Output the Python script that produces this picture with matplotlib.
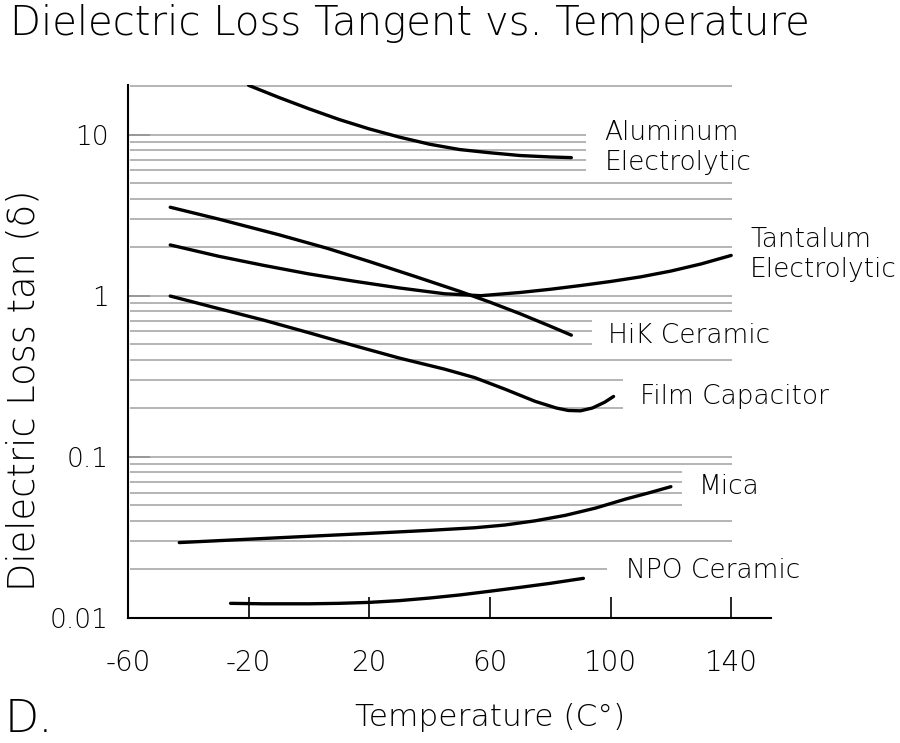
import matplotlib
matplotlib.use('Agg')
import matplotlib.pyplot as plt
import matplotlib.ticker as mtick

plt.rcParams['font.family'] = ['DejaVu Sans']

# ── curves (temperature °C, loss tangent) ────────────────────────────────────
AL_T   = [-20, -10, 0, 10, 20, 30, 40, 50, 60, 70, 80, 87]
AL_V   = [20.2, 17.0, 14.45, 12.4, 10.84, 9.64, 8.71, 8.07, 7.71, 7.41, 7.26, 7.19]

TA_T   = [-46, -30, -15, 0, 15, 30, 45, 57, 70, 80, 90, 100, 110, 120, 130, 140]
TA_V   = [2.065, 1.758, 1.542, 1.365, 1.230, 1.117, 1.028, 1.0, 1.047, 1.096,
          1.156, 1.225, 1.309, 1.422, 1.574, 1.778]

HIK_T  = [-46, -30, -10, 6, 20, 35, 50, 60, 70, 80, 87]
HIK_V  = [3.54, 2.99, 2.39, 1.97, 1.63, 1.32, 1.064, 0.912, 0.773, 0.647, 0.569]

FILM_T = [-46, -30, -15, 0, 15, 30, 45, 55, 65, 75, 82, 86, 90, 94, 98, 101]
FILM_V = [0.995, 0.832, 0.705, 0.589, 0.490, 0.410, 0.350, 0.310, 0.263, 0.221,
          0.201, 0.194, 0.193, 0.201, 0.218, 0.237]

MICA_T = [-43, -20, 0, 20, 40, 55, 65, 75, 85, 95, 105, 113, 120]
MICA_V = [0.02938, 0.03083, 0.03214, 0.0335, 0.03499, 0.03631, 0.03776, 0.04009,
          0.04335, 0.04808, 0.0547, 0.05998, 0.06531]

NPO_T  = [-26, -15, 0, 10, 20, 30, 40, 50, 60, 70, 80, 91]
NPO_V  = [0.01233, 0.01225, 0.01225, 0.01233, 0.0125, 0.01282, 0.0133, 0.0139,
          0.01466, 0.01549, 0.01641, 0.01762]

CURVES = [(AL_T, AL_V), (TA_T, TA_V), (HIK_T, HIK_V),
          (FILM_T, FILM_V), (MICA_T, MICA_V), (NPO_T, NPO_V)]

LABELS = ['Aluminum\nElectrolytic', 'Tantalum\nElectrolytic', 'HiK Ceramic',
          'Film Capacitor', 'Mica', 'NPO Ceramic']
LABEL_T = [98, 146.3, 99.3, 109.9, 129.4, 105]
LABEL_V = [8.3, 1.80, 0.57, 0.238, 0.0652, 0.0196]

X_TICKS = [-60, -20, 20, 60, 100, 140]
Y_TICKS = [0.01, 0.1, 1, 10]
Y_TICK_LABELS = ['0.01', '0.1', '1', '10']

# horizontal guide lines: value and where they stop (°C)
GRID_V   = [20, 10, 9, 8, 7, 6, 5, 4, 3, 2,
            1, 0.9, 0.8, 0.7, 0.6, 0.5, 0.4, 0.3, 0.2,
            0.1, 0.09, 0.08, 0.07, 0.06, 0.05, 0.04, 0.03, 0.02]
GRID_END = [140.3, 92, 92, 92, 92, 92, 140.3, 140.3, 140.3, 140.3,
            140.3, 140.3, 140.3, 93.7, 93.7, 93.7, 140.3, 104, 104,
            140.3, 140.3, 123.8, 123.8, 123.8, 123.8, 140.3, 140.3, 98.7]

XMIN, XMAX = -59.3, 153.2

fig = plt.figure(figsize=(9, 7.43), dpi=100)
ax = fig.add_axes([128/900, 1-618/743, (771-128)/900, (618-85)/743])

ax.set_yscale('log')
ax.set_xlim(XMIN, XMAX)
ax.set_ylim(0.01, 20.3)

ax.hlines(GRID_V, XMIN, GRID_END, colors='#b4b4b4', linewidth=1.4, zorder=1)

for t, v in CURVES:
    ax.plot(t, v, color='black', linewidth=2.4, solid_capstyle='round',
            solid_joinstyle='round', zorder=3)

for lab, t, v in zip(LABELS, LABEL_T, LABEL_V):
    ax.text(t, v, lab, fontsize=19, ha='left', va='center',
            fontweight='light', linespacing=1.25)

ax.spines[['top', 'right']].set_visible(False)
ax.spines[['left', 'bottom']].set_linewidth(1.5)

ax.set_xticks(X_TICKS)
ax.set_xticklabels([str(x) for x in X_TICKS], fontsize=20, fontweight='light')
ax.set_yticks(Y_TICKS)
ax.set_yticklabels(Y_TICK_LABELS, fontsize=19, fontweight='light')
ax.yaxis.set_minor_locator(mtick.NullLocator())
ax.tick_params(axis='x', direction='in', length=15, width=1.2, pad=22)
ax.tick_params(axis='y', direction='in', length=16, width=1.4, color='#999999', pad=14)

fig.text(10/900, 1-4/743, 'Dielectric Loss Tangent vs. Temperature',
         fontsize=29, fontweight='light', ha='left', va='top')
fig.text(24/900, 1-390/743, 'Dielectric Loss tan (δ)', fontsize=26.5,
         fontweight='light', rotation=90, ha='center', va='center')
fig.text(490/900, 1-717/743, 'Temperature (C°)', fontsize=22.5,
         fontweight='light', ha='center', va='center')
fig.text(5/900, 0.003, 'D.', fontsize=32, fontweight='light',
         ha='left', va='bottom')

fig.savefig('out.png', dpi=100)
